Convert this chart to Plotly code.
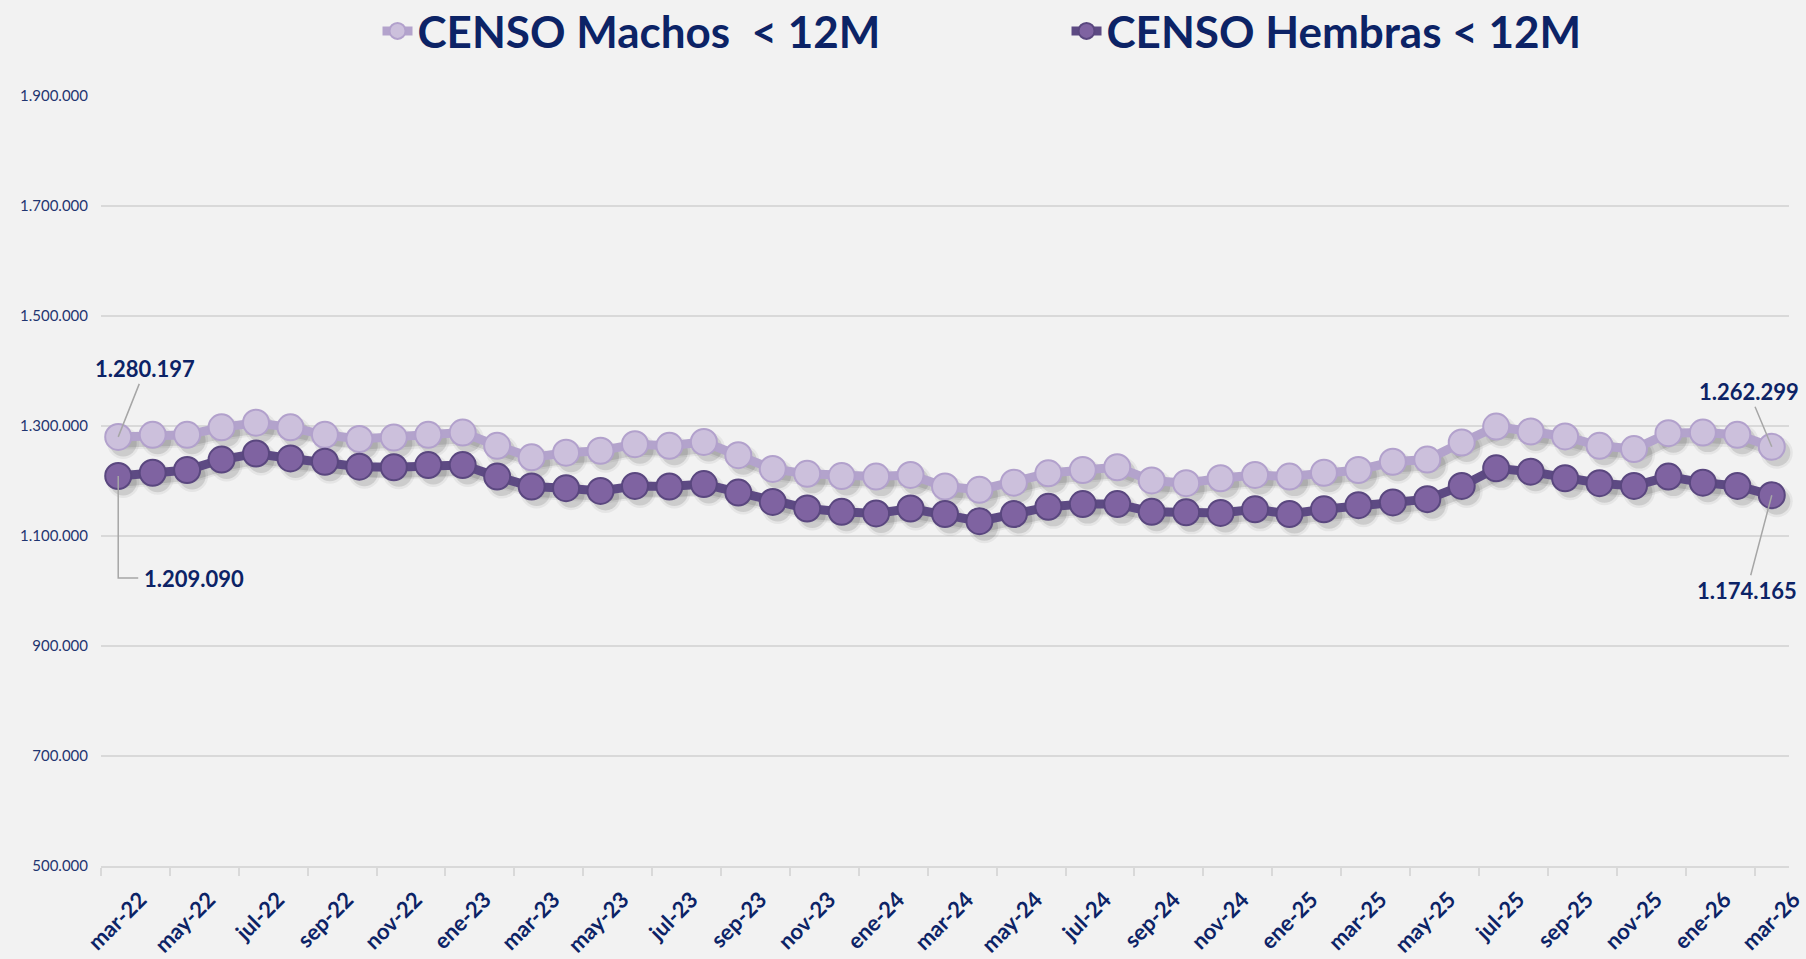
import plotly.graph_objects as go

months = ["mar-22","abr-22","may-22","jun-22","jul-22","ago-22","sep-22","oct-22","nov-22","dic-22",
          "ene-23","feb-23","mar-23","abr-23","may-23","jun-23","jul-23","ago-23","sep-23","oct-23","nov-23","dic-23",
          "ene-24","feb-24","mar-24","abr-24","may-24","jun-24","jul-24","ago-24","sep-24","oct-24","nov-24","dic-24",
          "ene-25","feb-25","mar-25","abr-25","may-25","jun-25","jul-25","ago-25","sep-25","oct-25","nov-25","dic-25",
          "ene-26","feb-26","mar-26"]

machos = [1280197, 1284000, 1284000, 1297600, 1306000, 1297600, 1284000, 1276400, 1279000, 1284000,
          1288000, 1264000, 1243000, 1251500, 1255000, 1267000, 1264000, 1271000, 1247000, 1222000,
          1213000, 1209000, 1208000, 1211000, 1190000, 1184000, 1197000, 1214000, 1220000, 1225000,
          1201000, 1196000, 1205000, 1211000, 1208000, 1215000, 1220000, 1235000, 1239000, 1270000,
          1299000, 1290000, 1281000, 1264000, 1258000, 1287000, 1288000, 1284000, 1262299]

hembras = [1209090, 1215000, 1220000, 1239000, 1250000, 1241000, 1235000, 1226000, 1225000, 1229000,
           1229000, 1208000, 1190000, 1187000, 1182000, 1191000, 1190000, 1194500, 1179000, 1162000,
           1150000, 1144000, 1141000, 1150000, 1140000, 1127000, 1140000, 1153000, 1158000, 1158000,
           1144000, 1143000, 1142000, 1148500, 1140000, 1148500, 1156000, 1161000, 1167000, 1191000,
           1223000, 1217000, 1205000, 1196000, 1191000, 1208000, 1197000, 1191000, 1174165]

y_ticks = [500000, 700000, 900000, 1100000, 1300000, 1500000, 1700000, 1900000]

NAVY = "#0c2366"
x_idx = list(range(len(months)))
tick_idx = x_idx[::2]
tick_txt = months[::2]

X_RANGE = [-0.5, 48.5]
Y_RANGE = [500000, 1900000]

# geometry for the soft drop shadow (subplot shifted a few pixels)
ML, MR, MT, MB = 101, 12, 96, 87
W, H = 1806, 959
PW, PH = W - ML - MR, H - MT - MB
SDX, SDY = 5, 6
dx, dy = SDX / PW, SDY / PH

fig = go.Figure()

for size, lw, col in ((32, 13, "rgba(40,40,40,0.06)"), (27, 9, "rgba(40,40,40,0.13)")):
    for vals in (machos, hembras):
        fig.add_trace(go.Scatter(
            x=x_idx, y=vals, mode="lines+markers", xaxis="x2", yaxis="y2",
            line=dict(color=col, width=lw),
            marker=dict(size=size, color=col, line=dict(width=0)),
            showlegend=False, hoverinfo="skip",
        ))

fig.add_trace(go.Scatter(
    x=x_idx, y=machos, mode="lines+markers", xaxis="x3", yaxis="y3",
    name="CENSO Machos\u00a0\u00a0< 12M",
    line=dict(color="#b3a3cc", width=9),
    marker=dict(size=26, color="#ccc0dc", line=dict(color="#b2a1cc", width=2)),
))
fig.add_trace(go.Scatter(
    x=x_idx, y=hembras, mode="lines+markers", xaxis="x3", yaxis="y3",
    name="CENSO Hembras < 12M",
    line=dict(color="#5d4a83", width=9),
    marker=dict(size=26, color="#7f63a1", line=dict(color="#5a477f", width=2)),
))

def fmt(v):
    return f"{v:,}".replace(",", ".")

ann_font = dict(family="Lato", size=22, color=NAVY, weight="bold")
arrow_col = "#a6a6a6"
annotations = [
    dict(x=0, y=machos[0], xref="x", yref="y", text=fmt(machos[0]), showarrow=True,
         ax=27, ay=-68, arrowhead=0, arrowwidth=1.5, arrowcolor=arrow_col, font=ann_font),
    dict(x=0, y=hembras[0], xref="x", yref="y", text=fmt(hembras[0]), showarrow=False,
         xanchor="left", yanchor="middle", xshift=24, yshift=-102, font=ann_font),
    dict(x=48, y=machos[48], xref="x", yref="y", text=fmt(machos[48]), showarrow=True,
         ax=-23, ay=-55, arrowhead=0, arrowwidth=1.5, arrowcolor=arrow_col, font=ann_font),
    dict(x=48, y=hembras[48], xref="x", yref="y", text=fmt(hembras[48]), showarrow=True,
         ax=-25, ay=95, arrowhead=0, arrowwidth=1.5, arrowcolor=arrow_col, font=ann_font),
]

shapes = [
    dict(type="path", xref="x", yref="y", xsizemode="pixel", ysizemode="pixel",
         xanchor=0, yanchor=hembras[0], path="M0,0 V-102 H20",
         line=dict(color=arrow_col, width=1.5), layer="above"),
]

hidden = dict(visible=False, showgrid=False, zeroline=False, fixedrange=True)

fig.update_layout(
    width=W, height=H,
    paper_bgcolor="#f2f2f2", plot_bgcolor="rgba(0,0,0,0)",
    margin=dict(l=ML, r=MR, t=MT, b=MB, autoexpand=False),
    separators=",.",
    showlegend=True,
    legend=dict(orientation="h", x=0.5703, xanchor="center", y=1.0834, yanchor="middle",
                font=dict(family="Lato", size=44, color=NAVY, weight="bold"),
                bgcolor="rgba(0,0,0,0)", itemsizing="trace", entrywidth=644, entrywidthmode="pixels"),
    xaxis=dict(domain=[0, 1 - dx], range=X_RANGE, tickmode="array", tickvals=tick_idx, ticktext=tick_txt,
               tickangle=-45, ticks="", showgrid=False, zeroline=False,
               showline=True, linecolor="#d9d9d9", linewidth=2,
               ticklabelshift=22, ticklabelstandoff=10, ticklabeloverflow="allow",
               tickfont=dict(family="Lato", size=22, color=NAVY, weight="bold"),
               minor=dict(tick0=-0.5, dtick=2, ticks="outside", ticklen=8, tickcolor="#d9d9d9",
                          tickwidth=2, showgrid=False)),
    yaxis=dict(domain=[dy, 1], range=Y_RANGE, tickmode="array", tickvals=y_ticks, tickformat=",d",
               showgrid=True, gridcolor="#d9d9d9", gridwidth=2, zeroline=False, showline=False,
               ticks="", ticklabelstandoff=12,
               tickfont=dict(family="Lato", size=15, color="#1f3570")),
    xaxis2=dict(domain=[dx, 1], range=X_RANGE, anchor="y2", **hidden),
    yaxis2=dict(domain=[0, 1 - dy], range=Y_RANGE, anchor="x2", **hidden),
    xaxis3=dict(domain=[0, 1 - dx], range=X_RANGE, anchor="y3", **hidden),
    yaxis3=dict(domain=[dy, 1], range=Y_RANGE, anchor="x3", **hidden),
    annotations=annotations,
    shapes=shapes,
)

fig.write_html("out.html", config={"displayModeBar": False},
               post_script="document.body.style.margin='0';")
